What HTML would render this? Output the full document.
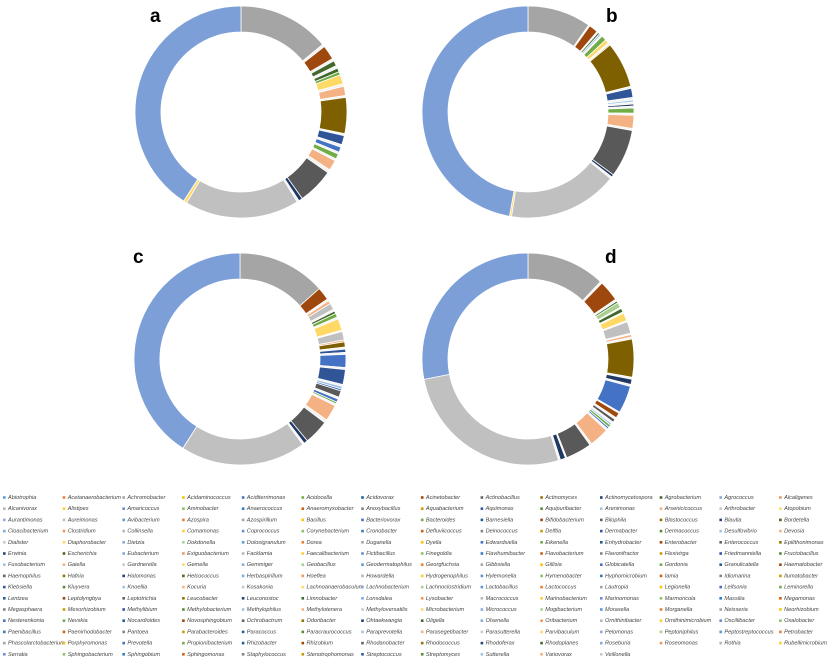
<!DOCTYPE html>
<html><head><meta charset="utf-8">
<style>
html,body{margin:0;padding:0;background:#fff;width:831px;height:659px;overflow:hidden}
svg{display:block}
.lg{font-family:"Liberation Sans",sans-serif;font-style:italic;font-size:5.6px;fill:#444}
.pl{font-family:"Liberation Sans",sans-serif;font-weight:bold;font-size:19px;fill:#000}
</style></head>
<body>
<svg id="chart" width="831" height="659" viewBox="0 0 831 659" xmlns="http://www.w3.org/2000/svg">
<text class="pl" x="150" y="22">a</text>
<text class="pl" x="606" y="22">b</text>
<text class="pl" x="133" y="263">c</text>
<text class="pl" x="605" y="263">d</text>
<g id="donuts"></g>
<g id="legend"></g>
</svg>
<script>
// palette keys -> colours
const C={bl:"#7C9FD8",gy:"#A5A5A5",lg:"#C0C0C0",br:"#9E480E",go:"#7F6000",dg:"#595959",nv:"#203864",b1:"#4472C4",b2:"#2F5597",pe:"#F4B183",ye:"#FFD966",gr:"#70AD47",dk:"#43682B",lgr:"#A9D18E",lb:"#9DC3E6",pa:"#F2F2F2"};

const donutA_colors=["gy","pa","br","pa","dk","pa","dk","gr","ye","pa","pe","pa","go","pa","b2","pa","b1","pa","gr","pa","pe","pa","dg","nv","pa","lg","ye","bl"];
const donutA_values=[14,0.4,2.2,0.4,0.8,0.4,0.6,0.5,1.4,0.4,1.4,0.3,5.5,0.3,1.4,0.4,0.8,0.3,0.8,0.3,1.6,0.5,5.5,0.6,0.3,17.5,0.5,40.9];

const donutB_colors=["gy","pa","br","pa","dk","lb","pa","gr","ye","pa","pe","go","pa","b2","pa","lb","pa","nv","pa","gr","pa","pe","pa","dg","nv","pa","lg","ye","bl"];
const donutB_values=[9.7,0.2,1.4,0.2,0.3,0.3,0.2,0.8,0.6,0.2,0.2,7.0,0.3,1.4,0.4,0.3,0.3,0.3,0.3,0.8,0.3,2.0,0.3,7.3,0.4,0.3,16.7,0.3,47.2];

const donutC_colors=["gy","br","pa","pe","lg","pa","dk","gr","pa","ye","pa","lg","pe","go","pa","b2","pa","b1","pa","b2","pa","lb","b1","dg","pa","b1","gr","pa","pe","pa","dg","nv","pa","lg","bl"];
const donutC_values=[13.5,2,0.3,0.5,1,0.3,0.4,0.6,0.3,1.8,0.2,1.3,0.3,0.8,0.3,0.5,0.3,2.0,0.3,2.3,0.3,0.4,0.3,1.0,0.3,0.5,0.3,0.3,2.5,0.5,3.8,0.6,0.3,19.2,41.1];

const donutD_colors=["gy","pa","br","pa","dk","lgr","pa","dk","pa","ye","pa","lg","pa","pe","pa","go","pa","nv","pa","b1","pa","br","pa","dg","pa","lb","gr","b1","pa","pe","pa","dg","pa","nv","pa","lg","bl"];
const donutD_values=[12,0.3,3.2,0.3,0.3,0.8,0.2,0.6,0.2,1.2,0.2,1.8,0.2,0.4,0.3,5.8,0.3,0.8,0.3,4.2,0.2,0.8,0.3,0.5,0.3,0.3,0.4,0.3,0.3,3.0,0.3,4.0,0.2,0.8,0.3,26.6,28.1];

const donutCenters=[[241,112],[528,112],[240,359],[528,359]];
const NS="http://www.w3.org/2000/svg";
const RO=106, RI=80;
function pt(cx,cy,r,a){const t=a*Math.PI/180;return [cx+r*Math.sin(t),cy-r*Math.cos(t)];}
function arcPath(cx,cy,a0,a1){
  const L=(a1-a0)>180?1:0;
  const p0=pt(cx,cy,RO,a0),p1=pt(cx,cy,RO,a1),p2=pt(cx,cy,RI,a1),p3=pt(cx,cy,RI,a0);
  return `M${p0[0]},${p0[1]}A${RO},${RO} 0 ${L} 1 ${p1[0]},${p1[1]}L${p2[0]},${p2[1]}A${RI},${RI} 0 ${L} 0 ${p3[0]},${p3[1]}Z`;
}
const donutSets=[[donutA_colors,donutA_values,"a"],[donutB_colors,donutB_values,"b"],[donutC_colors,donutC_values,"c"],[donutD_colors,donutD_values,"d"]];
const dg=document.getElementById("donuts");
donutSets.forEach((s,k)=>{
  const [cols,vals,lab]=s;const [cx,cy]=donutCenters[k];
  const tot=vals.reduce((a,b)=>a+b,0);
  const g=document.createElementNS(NS,"g");
  
  
  let acc=0;
  vals.forEach((v,i)=>{
    const a0=acc/tot*360; acc+=v; const a1=acc/tot*360;
    const p=document.createElementNS(NS,"path");
    p.setAttribute("d",arcPath(cx,cy,a0,a1));
    p.setAttribute("fill",C[cols[i]]);
    p.setAttribute("stroke","#fff");p.setAttribute("stroke-width","0.8");
    
    
    g.appendChild(p);
  });
  dg.appendChild(g);
});

const legendNames=["Abiotrophia","Acetanaerobacterium","Achromobacter","Acidaminococcus","Aciditerrimonas","Acidocella","Acidovorax","Acinetobacter","Actinobacillus","Actinomyces","Actinomycetospora","Agrobacterium","Agrococcus","Alcaligenes",
"Alcanivorax","Alistipes","Amaricoccus","Aminobacter","Anaerococcus","Anaeromyxobacter","Anoxybacillus","Aquabacterium","Aquimonas","Aquipuribacter","Arenimonas","Arsenicicoccus","Arthrobacter","Atopobium",
"Aurantimonas","Aureimonas","Avibacterium","Azospira","Azospirillum","Bacillus","Bacteriovorax","Bacteroides","Barnesiella","Bifidobacterium","Bilophila","Blastococcus","Blautia","Bordetella",
"Cloacibacterium","Clostridium","Collinsella","Comamonas","Coprococcus","Corynebacterium","Cronobacter","Defluviicoccus","Deinococcus","Delftia","Dermabacter","Dermacoccus","Desulfovibrio","Devosia",
"Dialister","Diaphorobacter","Dietzia","Dokdonella","Dolosigranulum","Dorea","Duganella","Dyella","Edwardsiella","Eikenella","Enhydrobacter","Enterobacter","Enterococcus","Epilithonimonas",
"Erwinia","Escherichia","Eubacterium","Exiguobacterium","Facklamia","Faecalibacterium","Fictibacillus","Finegoldia","Flavihumibacter","Flavobacterium","Flavonifractor","Flexivirga","Friedmanniella","Fructobacillus",
"Fusobacterium","Gaiella","Gardnerella","Gemella","Gemmiger","Geobacillus","Geodermatophilus","Georgfuchsia","Gibbsiella","Gillisia","Globicatella","Gordonia","Granulicatella","Haematobacter",
"Haemophilus","Hafnia","Halomonas","Helcococcus","Herbaspirillum","Hoeflea","Howardella","Hydrogenophilus","Hylemonella","Hymenobacter","Hyphomicrobium","Iamia","Idiomarina","Ilumatobacter",
"Klebsiella","Kluyvera","Knoellia","Kocuria","Kosakonia","Lachnoanaerobaculum","Lachnobacterium","Lachnoclostridium","Lactobacillus","Lactococcus","Lautropia","Legionella","Leifsonia","Leminorella",
"Lentzea","Leptolyngbya","Leptotrichia","Leucobacter","Leuconostoc","Limnobacter","Lonsdalea","Lysobacter","Macrococcus","Marinobacterium","Marinomonas","Marmoricola","Massilia","Megamonas",
"Megasphaera","Mesorhizobium","Methylibium","Methylobacterium","Methylophilus","Methylotenera","Methyloversatilis","Microbacterium","Micrococcus","Mogibacterium","Moraxella","Morganella","Neisseria","Neorhizobium",
"Nesterenkonia","Nevskia","Nocardioides","Novosphingobium","Ochrobactrum","Odoribacter","Ohtaekwangia","Oligella","Olsenella","Oribacterium","Ornithinibacter","Ornithinimicrobium","Oscillibacter","Oxalobacter",
"Paenibacillus","Paenirhodobacter","Pantoea","Parabacteroides","Paracoccus","Paracraurococcus","Paraprevotella","Parasegetibacter","Parasutterella","Parvibaculum","Pelomonas","Peptoniphilus","Peptostreptococcus","Petrobacter",
"Phascolarctobacterium","Porphyromonas","Prevotella","Propionibacterium","Rhizobacter","Rhizobium","Rhodanobacter","Rhodococcus","Rhodoferax","Rhodoplanes","Roseburia","Roseomonas","Rothia","Rubellimicrobium",
"Serratia","Sphingobacterium","Sphingobium","Sphingomonas","Staphylococcus","Stenotrophomonas","Streptococcus","Streptomyces","Sutterella","Variovorax","Veillonella"];
const legendPalette=["#5B9BD5","#ED7D31","#A5A5A5","#FFC000","#4472C4","#70AD47","#255E91","#9E480E","#636363","#997300","#264478","#43682B","#7CAFDD","#F1975A","#B7B7B7","#FFCD33","#698ED0","#8CC168","#327DC2","#D26012","#848484","#CC9A00","#335AA1","#5A8A39","#9DC3E6","#F4B183","#C9C9C9","#FFD966","#8FAADC","#A9D18E"];
const lg=document.getElementById("legend");
legendNames.forEach((n,i)=>{
  const col=i%14,row=Math.floor(i/14);
  const x=3+col*59.7,y=499+row*11.2;
  const g=document.createElementNS(NS,"g");
  
  
  const r=document.createElementNS(NS,"rect");
  r.setAttribute("x",x);r.setAttribute("y",y-2.8);r.setAttribute("width",2.6);r.setAttribute("height",2.6);
  r.setAttribute("fill",legendPalette[i%legendPalette.length]);
  
  
  const t=document.createElementNS(NS,"text");
  t.setAttribute("x",x+5);t.setAttribute("y",y);t.setAttribute("class","lg");
  t.textContent=n;
  
  
  g.appendChild(r);g.appendChild(t);lg.appendChild(g);
});
</script>
</body></html>
